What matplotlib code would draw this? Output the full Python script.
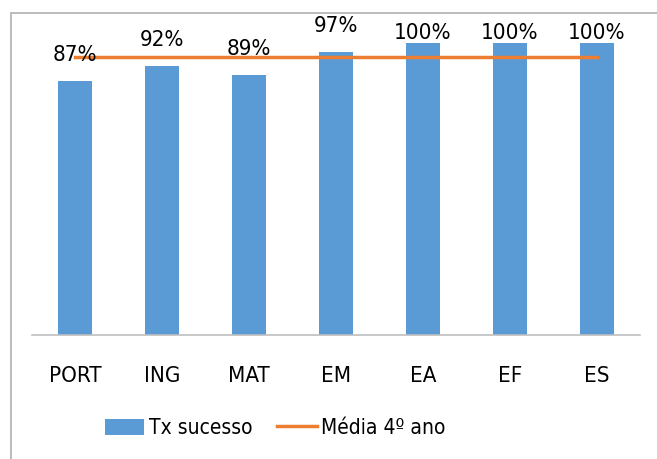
import matplotlib
matplotlib.use('Agg')
import matplotlib.pyplot as plt
from matplotlib.patches import Rectangle

# dados
disciplinas = ['PORT', 'ING', 'MAT', 'EM', 'EA', 'EF', 'ES']
tx_sucesso = [87, 92, 89, 97, 100, 100, 100]
media_4ano = 95.2

plt.rcParams['font.family'] = ['DejaVu Sans']
plt.rcParams['font.stretch'] = 'condensed'

fig = plt.figure(figsize=(6.57, 4.59), dpi=100)
fig.patch.set_facecolor('white')

# moldura do grafico (cortada a direita e em baixo)
fig.patches.append(Rectangle((11/657, -0.1), 1.2, 1 - 13/459 + 0.1,
                             transform=fig.transFigure, fill=False,
                             edgecolor='#b0b0b0', linewidth=1.2))

ax = fig.add_axes([32/657, 1 - 335/459, 608/657, 292/459])
x = range(len(disciplinas))
barras = ax.bar(x, tx_sucesso, width=0.39, color='#5B9BD5', label='Tx sucesso', zorder=2)
linha, = ax.plot([0, len(disciplinas) - 1], [media_4ano, media_4ano], color='#ED7D31',
                 linewidth=2.5, label='Média 4º ano', zorder=3)

for i, v in enumerate(tx_sucesso):
    # o excel encosta os rotulos de 100% ao topo da barra
    y = v + 5.5 if v < 100 else v
    ax.text(i, y, f'{v}%', ha='center', va='bottom', fontsize=16,
            clip_on=False, zorder=4)

ax.set_xlim(-0.5, len(disciplinas) - 0.5)
ax.set_ylim(0, 100)
ax.set_xticks(list(x))
ax.set_xticklabels(disciplinas, fontsize=16)
ax.tick_params(axis='x', length=0, pad=22)
ax.set_yticks([])
for s in ['top', 'right', 'left']:
    ax.spines[s].set_visible(False)
ax.spines['bottom'].set_color('#bfbfbf')
ax.spines['bottom'].set_linewidth(1.2)

fig.legend([barras, linha], ['Tx sucesso', 'Média 4º ano'],
           loc='center', bbox_to_anchor=(275/657, 1 - 428/459), ncol=2,
           frameon=False, fontsize=15, handlelength=1.9, handleheight=0.8,
           handletextpad=0.2, columnspacing=1.2)

plt.savefig('out.png', dpi=100)
